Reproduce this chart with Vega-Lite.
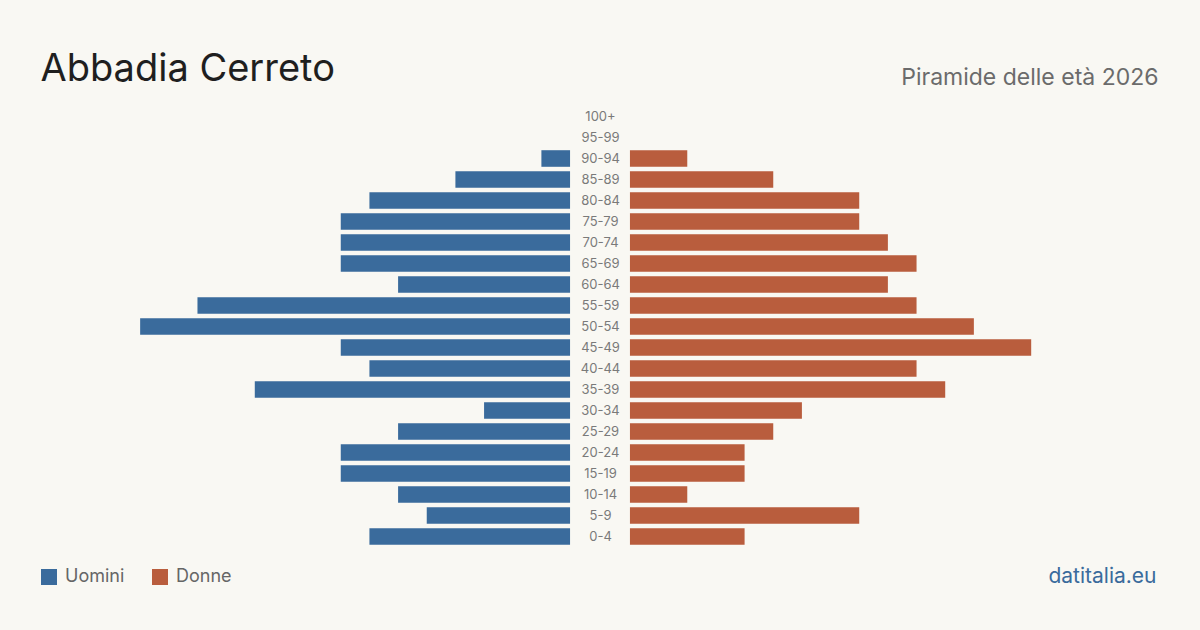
{
  "$schema": "https://vega.github.io/schema/vega-lite/v6.json",
  "width": 1200,
  "height": 441,
  "autosize": {"type": "none"},
  "padding": {"left": 0, "right": 0, "top": 106, "bottom": 83},
  "background": "#f9f8f3",
  "config": {
    "view": {"stroke": null},
    "font": "Inter",
    "axis": {"labelFont": "Inter", "titleFont": "Inter"},
    "legend": {"labelFont": "Inter"}
  },
  "data": {
    "values": [
      {"age": "100+", "sex": "Uomini", "n": 0}, {"age": "100+", "sex": "Donne", "n": 0},
      {"age": "95-99", "sex": "Uomini", "n": 0}, {"age": "95-99", "sex": "Donne", "n": 0},
      {"age": "90-94", "sex": "Uomini", "n": 1}, {"age": "90-94", "sex": "Donne", "n": 2},
      {"age": "85-89", "sex": "Uomini", "n": 4}, {"age": "85-89", "sex": "Donne", "n": 5},
      {"age": "80-84", "sex": "Uomini", "n": 7}, {"age": "80-84", "sex": "Donne", "n": 8},
      {"age": "75-79", "sex": "Uomini", "n": 8}, {"age": "75-79", "sex": "Donne", "n": 8},
      {"age": "70-74", "sex": "Uomini", "n": 8}, {"age": "70-74", "sex": "Donne", "n": 9},
      {"age": "65-69", "sex": "Uomini", "n": 8}, {"age": "65-69", "sex": "Donne", "n": 10},
      {"age": "60-64", "sex": "Uomini", "n": 6}, {"age": "60-64", "sex": "Donne", "n": 9},
      {"age": "55-59", "sex": "Uomini", "n": 13}, {"age": "55-59", "sex": "Donne", "n": 10},
      {"age": "50-54", "sex": "Uomini", "n": 15}, {"age": "50-54", "sex": "Donne", "n": 12},
      {"age": "45-49", "sex": "Uomini", "n": 8}, {"age": "45-49", "sex": "Donne", "n": 14},
      {"age": "40-44", "sex": "Uomini", "n": 7}, {"age": "40-44", "sex": "Donne", "n": 10},
      {"age": "35-39", "sex": "Uomini", "n": 11}, {"age": "35-39", "sex": "Donne", "n": 11},
      {"age": "30-34", "sex": "Uomini", "n": 3}, {"age": "30-34", "sex": "Donne", "n": 6},
      {"age": "25-29", "sex": "Uomini", "n": 6}, {"age": "25-29", "sex": "Donne", "n": 5},
      {"age": "20-24", "sex": "Uomini", "n": 8}, {"age": "20-24", "sex": "Donne", "n": 4},
      {"age": "15-19", "sex": "Uomini", "n": 8}, {"age": "15-19", "sex": "Donne", "n": 4},
      {"age": "10-14", "sex": "Uomini", "n": 6}, {"age": "10-14", "sex": "Donne", "n": 2},
      {"age": "5-9", "sex": "Uomini", "n": 5}, {"age": "5-9", "sex": "Donne", "n": 8},
      {"age": "0-4", "sex": "Uomini", "n": 7}, {"age": "0-4", "sex": "Donne", "n": 4}
    ]
  },
  "encoding": {
    "y": {
      "field": "age",
      "type": "nominal",
      "scale": {
        "domain": ["100+", "95-99", "90-94", "85-89", "80-84", "75-79", "70-74", "65-69", "60-64", "55-59", "50-54", "45-49", "40-44", "35-39", "30-34", "25-29", "20-24", "15-19", "10-14", "5-9", "0-4"],
        "paddingInner": 0.21,
        "paddingOuter": 0.105
      },
      "axis": {
        "orient": "left",
        "offset": -600,
        "domain": false,
        "ticks": false,
        "grid": false,
        "labelAlign": "center",
        "labelBaseline": "middle",
        "labelPadding": 0,
        "labelFontSize": 13,
        "labelColor": "#7a7a7a",
        "title": "Piramide delle età 2026",
        "titleAngle": 0,
        "titleX": 558,
        "titleY": -22,
        "titleAlign": "right",
        "titleBaseline": "alphabetic",
        "titleFontSize": 23,
        "titleFontWeight": 400,
        "titleColor": "#6b6b6b"
      }
    },
    "color": {
      "field": "sex",
      "type": "nominal",
      "scale": {"domain": ["Uomini", "Donne"], "range": ["#3a6b9c", "#b95d3d"]},
      "legend": {
        "orient": "none",
        "legendX": 40,
        "legendY": 462,
        "direction": "horizontal",
        "title": null,
        "symbolType": "square",
        "symbolSize": 256,
        "symbolStrokeWidth": 0,
        "labelFontSize": 18,
        "labelColor": "#666666",
        "labelOffset": 7,
        "columnPadding": 26,
        "padding": 0
      }
    }
  },
  "layer": [
    {
      "transform": [{"filter": "datum.sex === 'Uomini'"}],
      "mark": {"type": "bar"},
      "encoding": {
        "x": {
          "field": "n",
          "type": "quantitative",
          "stack": null,
          "scale": {"domain": [-21.98, 19.89], "reverse": true, "nice": false, "zero": false},
          "axis": {
            "orient": "top",
            "domain": false,
            "ticks": false,
            "labels": false,
            "grid": false,
            "title": "Abbadia Cerreto",
            "titleX": 40,
            "titleY": -26,
            "titleAlign": "left",
            "titleBaseline": "alphabetic",
            "titleFontSize": 38,
            "titleFontWeight": 400,
            "titleColor": "#1f1f1f"
          }
        }
      }
    },
    {
      "transform": [{"filter": "datum.sex === 'Donne'"}],
      "mark": {"type": "bar"},
      "encoding": {
        "x": {
          "field": "n",
          "type": "quantitative",
          "stack": null,
          "scale": {"domain": [-21.98, 19.89], "nice": false, "zero": false},
          "axis": {
            "orient": "bottom",
            "domain": false,
            "ticks": false,
            "labels": false,
            "grid": false,
            "title": "datitalia.eu",
            "titleX": 1156,
            "titleY": 35,
            "titleAlign": "right",
            "titleBaseline": "alphabetic",
            "titleFontSize": 21,
            "titleFontWeight": 400,
            "titleColor": "#3a6b9c"
          }
        }
      }
    }
  ],
  "resolve": {"scale": {"x": "independent"}, "axis": {"x": "independent"}}
}
